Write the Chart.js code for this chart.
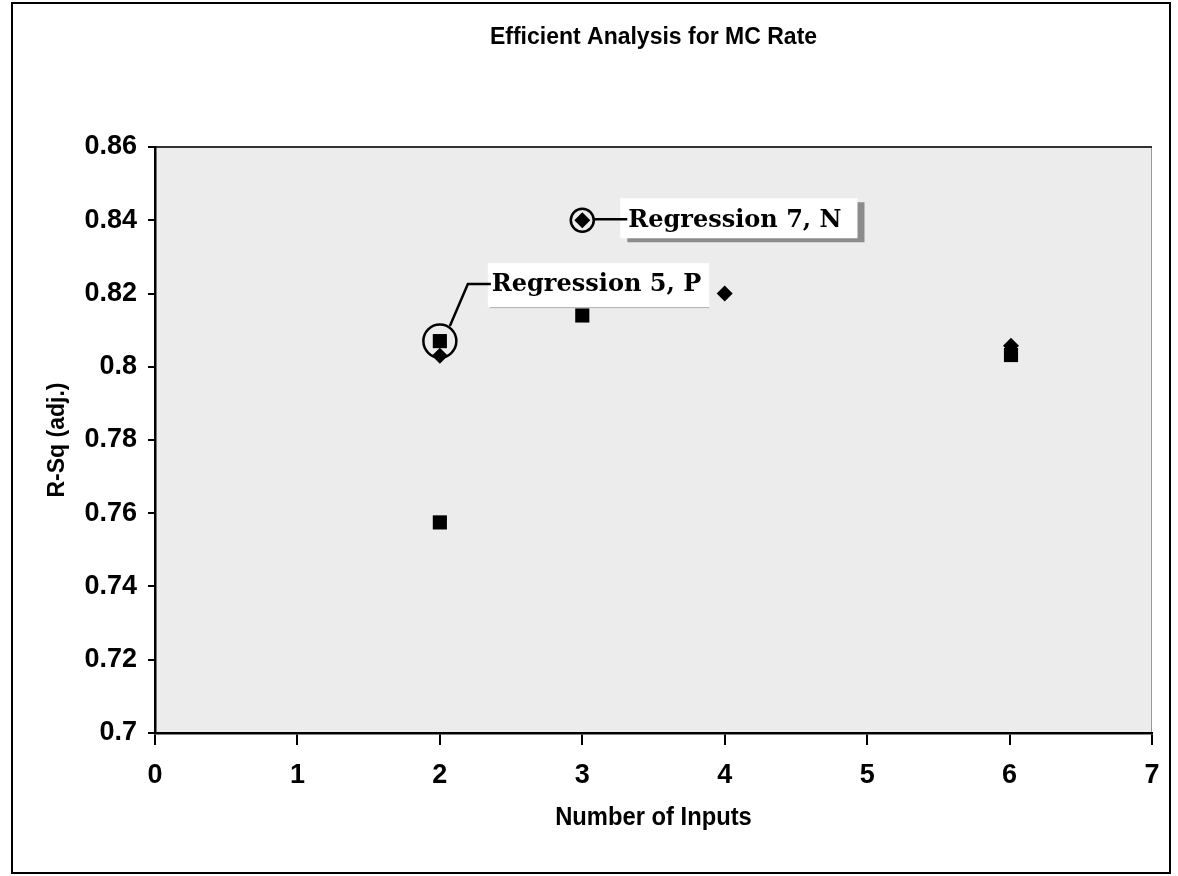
<!DOCTYPE html>
<html>
<head>
<meta charset="utf-8">
<script src="https://cdn.jsdelivr.net/npm/chart.js@4/dist/chart.umd.min.js"></script>
<style>
html,body{margin:0;padding:0;background:#fff}
</style>
</head>
<body>
<canvas id="c" width="1178" height="876"></canvas>
<script>
// values
const xTicks = [0, 1, 2, 3, 4, 5, 6, 7]
const yTicks = [0.7, 0.72, 0.74, 0.76, 0.78, 0.8, 0.82, 0.84, 0.86]
const diamonds = [{x: 2, y: 0.803}, {x: 3, y: 0.84}, {x: 4, y: 0.82}, {x: 6.01, y: 0.8057}]
const squares = [{x: 2, y: 0.807}, {x: 2, y: 0.7575}, {x: 3, y: 0.814}, {x: 6.01, y: 0.8032}]
const picked = [{x: 2, y: 0.807}, {x: 3, y: 0.84}]
const pickedNames = ['Regression 5, P', 'Regression 7, N']

const titleText = 'Efficient Analysis for MC Rate'
const xTitle = 'Number of Inputs'
const yTitle = 'R-Sq (adj.)'

const sans = "'Liberation Sans', Arial, sans-serif"
const serif = "'DejaVu Serif', 'Liberation Serif', serif"

const frame = {
  id: 'frame',
  beforeDraw(chart) {
    const ctx = chart.ctx, a = chart.chartArea
    ctx.save()
    ctx.fillStyle = '#fff'
    ctx.fillRect(0, 0, chart.width, chart.height)
    ctx.fillStyle = '#ececec'
    ctx.fillRect(a.left, a.top, a.right - a.left, a.bottom - a.top)
    ctx.strokeStyle = '#999'
    ctx.lineWidth = 1
    ctx.strokeRect(a.left + 0.5, a.top + 0.5, a.right - a.left - 1, a.bottom - a.top)
    ctx.strokeStyle = '#333'
    ctx.lineWidth = 2
    ctx.beginPath(); ctx.moveTo(a.left, a.top); ctx.lineTo(a.right, a.top); ctx.stroke()
    // outer border
    ctx.strokeStyle = '#000'
    ctx.lineWidth = 2
    ctx.strokeRect(12, 3, chart.width - 20, chart.height - 6)
    ctx.restore()
  },
  afterDraw(chart) {
    const ctx = chart.ctx, a = chart.chartArea
    const xs = chart.scales.x, ys = chart.scales.y
    const cx = (a.left + a.right) / 2
    ctx.save()
    ctx.fillStyle = '#000'
    ctx.textAlign = 'center'
    ctx.textBaseline = 'middle'
    ctx.font = 'bold 23px ' + sans
    ctx.fillText(titleText, cx, 38)
    ctx.font = 'bold 25px ' + sans
    ctx.save()
    ctx.translate(cx, 818)
    ctx.scale(0.95, 1)
    ctx.fillText(xTitle, 0, 0)
    ctx.restore()
    ctx.translate(58, (a.top + a.bottom) / 2)
    ctx.rotate(-Math.PI / 2)
    ctx.font = 'bold 23px ' + sans
    ctx.fillText(yTitle, 0, 0)
    ctx.restore()

    // callouts
    ctx.save()
    ctx.font = 'bold 24px ' + serif
    ctx.textBaseline = 'middle'
    ctx.textAlign = 'left'
    ctx.strokeStyle = '#000'
    ctx.lineWidth = 2.5

    // Regression 5, P
    let px = xs.getPixelForValue(picked[0].x), py = ys.getPixelForValue(picked[0].y)
    let tx = px + 52, ty = py - 57
    let w = ctx.measureText(pickedNames[0]).width
    ctx.fillStyle = '#fff'
    ctx.fillRect(tx - 4, ty - 21, w + 12, 44)
    ctx.strokeStyle = '#b0b0b0'; ctx.lineWidth = 1
    ctx.beginPath(); ctx.moveTo(tx - 2, ty + 23.5); ctx.lineTo(tx + w + 8, ty + 23.5); ctx.stroke()
    ctx.strokeStyle = '#000'; ctx.lineWidth = 2.5
    ctx.beginPath()
    ctx.moveTo(px + 10, py - 15)
    ctx.lineTo(px + 28, py - 57)
    ctx.lineTo(tx - 1, ty)
    ctx.stroke()
    ctx.fillStyle = '#000'
    ctx.fillText(pickedNames[0], tx, ty + 1)

    // Regression 7, N
    px = xs.getPixelForValue(picked[1].x); py = ys.getPixelForValue(picked[1].y)
    tx = px + 46; ty = py + 1
    w = ctx.measureText(pickedNames[1]).width
    ctx.fillStyle = '#8c8c8c'
    ctx.fillRect(tx - 8 + 7, ty - 23 + 4, w + 24, 40)
    ctx.fillStyle = '#fff'
    ctx.fillRect(tx - 8, ty - 23, w + 24, 40)
    ctx.beginPath()
    ctx.moveTo(px + 12, py - 1)
    ctx.lineTo(tx - 1, py - 1)
    ctx.stroke()
    ctx.fillStyle = '#000'
    ctx.fillText(pickedNames[1], tx, ty)
    ctx.restore()
  }
}

const tickFont = {family: sans, size: 27, weight: 'bold'}

new Chart(document.getElementById('c'), {
  type: 'scatter',
  data: {
    datasets: [
      {
        label: 'diamond',
        data: diamonds,
        pointStyle: 'rectRot',
        pointRadius: 8,
        backgroundColor: '#000',
        borderColor: '#000',
        borderWidth: 0
      },
      {
        label: 'square',
        data: squares,
        pointStyle: 'rect',
        pointRadius: 10,
        backgroundColor: '#000',
        borderColor: '#000',
        borderWidth: 0
      },
      {
        label: 'picked',
        data: picked,
        pointStyle: 'circle',
        pointRadius: [16.5, 11.5],
        backgroundColor: 'transparent',
        borderColor: '#000',
        borderWidth: 2.5
      }
    ]
  },
  options: {
    responsive: false,
    animation: false,
    devicePixelRatio: 1,
    layout: {padding: {left: 14, right: 26, top: 147, bottom: 6}},
    plugins: {
      legend: {display: false},
      tooltip: {enabled: false}
    },
    scales: {
      x: {
        type: 'linear',
        min: 0, max: 7,
        afterBuildTicks: s => { s.ticks = xTicks.map(v => ({value: v})) },
        afterFit: s => { s.height = 137 },
        border: {color: '#000', width: 2.5},
        grid: {drawOnChartArea: false, drawTicks: true, tickLength: 12, color: '#000', lineWidth: 2},
        ticks: {color: '#000', font: tickFont, padding: 14, maxRotation: 0}
      },
      y: {
        type: 'linear',
        min: 0.7, max: 0.86,
        afterBuildTicks: s => { s.ticks = yTicks.map(v => ({value: v})) },
        afterFit: s => { s.width = 141 },
        border: {color: '#000', width: 2.5},
        grid: {drawOnChartArea: false, drawTicks: true, tickLength: 7, color: '#000', lineWidth: 2},
        ticks: {color: '#000', font: tickFont, padding: 11, callback: v => String(+v.toFixed(2))}
      }
    }
  },
  plugins: [frame]
})
</script>
</body>
</html>
